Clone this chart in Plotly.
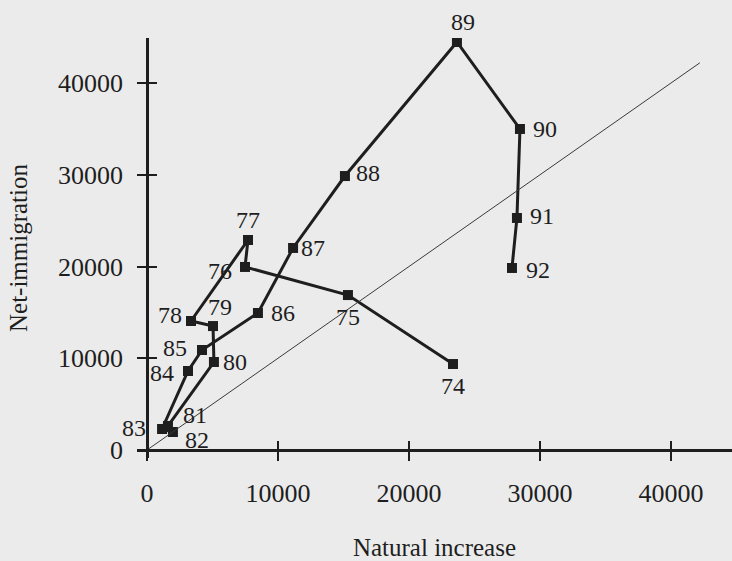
import plotly.graph_objects as go

# Data (years 1974-1992)
years = ["74", "75", "76", "77", "78", "79", "80", "81", "82", "83",
         "84", "85", "86", "87", "88", "89", "90", "91", "92"]
natural_increase = [23360, 15340, 7480, 7710, 3360, 5040, 5110, 1600, 1980, 1150,
                    3130, 4200, 8470, 11150, 15110, 23660, 28470, 28240, 27860]
net_immigration = [9370, 16890, 19950, 22890, 14060, 13510, 9590, 2620, 1960, 2290,
                   8610, 10900, 14930, 22020, 29860, 44470, 34990, 25290, 19840]
diag_x = [0, 42200]
diag_y = [0, 42200]
tick_vals = [0, 10000, 20000, 30000, 40000]
tick_text = ["0", "10000", "20000", "30000", "40000"]

# label offsets in pixels (style only)
label_shift = {
    "74": (0, -22), "75": (0, -22), "76": (-25, -4), "77": (0, 20),
    "78": (-21, 6), "79": (7, 19), "80": (21, 0), "81": (27, 11),
    "82": (24, -8), "83": (-28, 1), "84": (-26, -2), "85": (-27, 2),
    "86": (25, 0), "87": (20, 0), "88": (23, 3), "89": (6, 20),
    "90": (25, 0), "91": (25, 2), "92": (26, -2),
}

FONT = "Liberation Serif, Times New Roman, serif"
INK = "#1e1e1e"
BG = "#ebebeb"

xr = [-763, 44656]
yr = [-872, 44905]
xpos = (0 - yr[0]) / (yr[1] - yr[0])
ypos = (0 - xr[0]) / (xr[1] - xr[0])

fig = go.Figure()
fig.add_trace(go.Scatter(
    x=diag_x, y=diag_y, mode="lines", xaxis="x2", yaxis="y2",
    line=dict(color="#3a3a3a", width=1), hoverinfo="skip", showlegend=False))
fig.add_trace(go.Scatter(
    x=natural_increase, y=net_immigration, mode="lines+markers",
    line=dict(color=INK, width=3),
    marker=dict(symbol="square", size=10, color=INK),
    showlegend=False))

for yr_lbl, xv, yv in zip(years, natural_increase, net_immigration):
    dx, dy = label_shift[yr_lbl]
    fig.add_annotation(x=xv, y=yv, text=yr_lbl, showarrow=False,
                       xshift=dx, yshift=dy,
                       font=dict(family=FONT, size=24, color=INK))

axis_common = dict(showgrid=False, zeroline=False, tickvals=tick_vals,
                   ticktext=tick_text, ticklen=9, tickwidth=2, tickcolor=INK,
                   automargin=False,
                   tickfont=dict(family=FONT, size=26, color=INK))

fig.update_layout(
    width=732, height=561,
    margin=dict(l=137, r=0, t=38, b=103),
    paper_bgcolor=BG, plot_bgcolor=BG,
    xaxis=dict(range=xr, domain=[0, 1], anchor="free", position=xpos,
               showline=True, linecolor=INK, linewidth=2.5, ticks="outside",
               ticklabelstandoff=10,
               title=dict(text="Natural increase", standoff=41,
                          font=dict(family=FONT, size=25, color=INK)),
               **axis_common),
    yaxis=dict(range=yr, domain=[0, 1], anchor="free", position=ypos,
               showline=True, linecolor=INK, linewidth=2.5, ticks="outside",
               ticklabelstandoff=9,
               title=dict(text="Net-immigration", standoff=22,
                          font=dict(family=FONT, size=25, color=INK)),
               **axis_common),
    xaxis2=dict(overlaying="x", matches="x", anchor="free", position=xpos,
                showline=False, ticks="inside", showticklabels=False,
                showgrid=False, zeroline=False, tickvals=tick_vals[1:],
                ticklen=9, tickwidth=2, tickcolor=INK, automargin=False),
    yaxis2=dict(overlaying="y", matches="y", anchor="free", position=ypos,
                showline=False, ticks="inside", showticklabels=False,
                showgrid=False, zeroline=False, tickvals=tick_vals[1:],
                ticklen=9, tickwidth=2, tickcolor=INK, automargin=False),
)

fig.write_html(
    "out.html",
    config={"displayModeBar": False},
    post_script="document.body.style.margin='0';"
                "document.body.style.background='" + BG + "';"
                "document.body.style.overflow='hidden';",
)
